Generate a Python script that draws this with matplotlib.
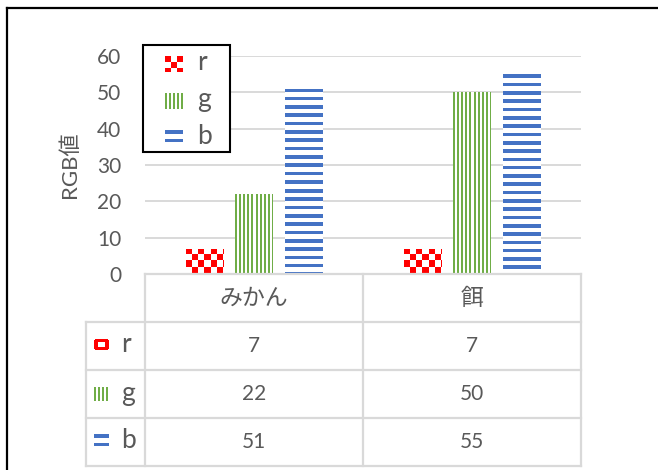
import numpy as np
import matplotlib
matplotlib.use('Agg')
import matplotlib.pyplot as plt
from matplotlib.colors import to_rgb
from matplotlib.patches import Rectangle

plt.rcParams['font.family'] = ['Lato', 'Noto Sans CJK JP', 'DejaVu Sans']

# data
categories = ['みかん', '餌']
series = ['r', 'g', 'b']
r_values = [7, 7]
g_values = [22, 50]
b_values = [51, 55]
y_ticks = [0, 10, 20, 30, 40, 50, 60]
y_label = 'RGB値'

values = {'r': r_values, 'g': g_values, 'b': b_values}
colors = {'r': '#FF0000', 'g': '#70AD47', 'b': '#4472C4'}
text_color = '#595959'
line_color = '#D9D9D9'

W, H = 658, 470
fig = plt.figure(figsize=(W / 100, H / 100), dpi=100)
fig.patch.set_facecolor('white')


def fx(px):
    return px / W


def fy(py):
    return 1 - py / H


def texture(kind, w, h, ring=False):
    yy, xx = np.mgrid[0:h, 0:w]
    if kind == 'r':
        if ring:
            on = (xx < 4) | (xx >= w - 4) | (yy < 3) | (yy >= h - 3)
            on[0, 0] = on[0, -1] = on[-1, 0] = on[-1, -1] = False
        else:
            on = ((xx // 6) + (yy // 6)) % 2 == 0
    elif kind == 'g':
        on = (xx % 4) < 2
    else:
        on = (yy % 8.3) < 3.6
    img = np.ones((h, w, 3))
    img[on] = to_rgb(colors[kind])
    return img


# plot area
ax = fig.add_axes([fx(145), fy(274), fx(581) - fx(145), fy(56) - fy(274)])
ax.set_xlim(-0.5, len(categories) - 0.5)
ax.set_ylim(y_ticks[0], y_ticks[-1])
ax.set_yticks(y_ticks)
ax.set_xticks([])
ax.yaxis.grid(True, color=line_color, lw=1.4)
ax.set_axisbelow(True)
ax.tick_params(axis='y', length=0, pad=17, labelsize=15, labelcolor=text_color)
for s in ax.spines.values():
    s.set_visible(False)
ax.set_ylabel(y_label, fontsize=16, color=text_color, labelpad=12)

x = np.arange(len(categories))
offset = 0.225
width = 0.17
for i, name in enumerate(series):
    bars = ax.bar(x + (i - 1) * offset, values[name], width,
                  facecolor='none', edgecolor='none', zorder=2)
    for patch in bars:
        bb = patch.get_bbox()
        pb = bb.transformed(ax.transData)
        w = max(int(round(pb.width)), 1)
        h = max(int(round(pb.height)), 1)
        im = ax.imshow(texture(name, w, h), extent=(bb.x0, bb.x1, bb.y0, bb.y1),
                       aspect='auto', interpolation='nearest', zorder=3)
        im.set_clip_path(patch)
ax.set_xlim(-0.5, len(categories) - 0.5)
ax.set_ylim(y_ticks[0], y_ticks[-1])

# overlay in pixel coordinates for table, legend and frame
ov = fig.add_axes([0, 0, 1, 1], zorder=5)
ov.axis('off')

col_edges = [86, 145, 363, 581]
row_edges = [274, 322, 370, 418, 466]

# table grid
ov.plot([col_edges[1], col_edges[-1]], [row_edges[0]] * 2, color=line_color, lw=1.6)
for ry in row_edges[1:]:
    ov.plot([col_edges[0], col_edges[-1]], [ry, ry], color=line_color, lw=1.6)
ov.plot([col_edges[0]] * 2, [row_edges[1], row_edges[-1]], color=line_color, lw=1.6)
for cx in col_edges[1:]:
    ov.plot([cx, cx], [row_edges[0], row_edges[-1]], color=line_color, lw=1.6)

# header row
for j, cat in enumerate(categories):
    cx = (col_edges[j + 1] + col_edges[j + 2]) / 2
    ov.text(cx, (row_edges[0] + row_edges[1]) / 2, cat, ha='center', va='center',
            fontsize=16.5, color=text_color)

# value rows
for i, name in enumerate(series):
    cy = (row_edges[i + 1] + row_edges[i + 2]) / 2
    sw_h = 11 if name == 'r' else (14 if name == 'g' else 12)
    sw_top = cy - 7 if name != 'b' else cy - 8
    ov.imshow(texture(name, 15, sw_h, ring=True),
              extent=(94, 109, sw_top + sw_h, sw_top),
              aspect='auto', interpolation='nearest', zorder=3)
    ov.text(121, cy - 1, name, ha='left', va='center', fontsize=19, color=text_color)
    for j in range(len(categories)):
        cx = (col_edges[j + 1] + col_edges[j + 2]) / 2
        ov.text(cx, cy, str(values[name][j]), ha='center', va='center',
                fontsize=15, color=text_color)

# legend
ov.add_patch(Rectangle((143, 45), 87, 107, facecolor='white', edgecolor='black',
                       lw=1.5, zorder=2))
for i, name in enumerate(series):
    cy = 64 + 37 * i
    ov.imshow(texture(name, 18, 16), extent=(165, 183, cy + 8, cy - 8),
              aspect='auto', interpolation='nearest', zorder=3)
    ov.text(197, cy - 1, name, ha='left', va='center', fontsize=19, color=text_color,
            zorder=4)

# outer frame
ov.plot([7, 7], [8, H], color='black', lw=1.6, solid_capstyle='projecting')
ov.plot([7, W], [8, 8], color='black', lw=1.6, solid_capstyle='projecting')

ov.set_xlim(0, W)
ov.set_ylim(H, 0)

fig.savefig('out.png', dpi=100)
